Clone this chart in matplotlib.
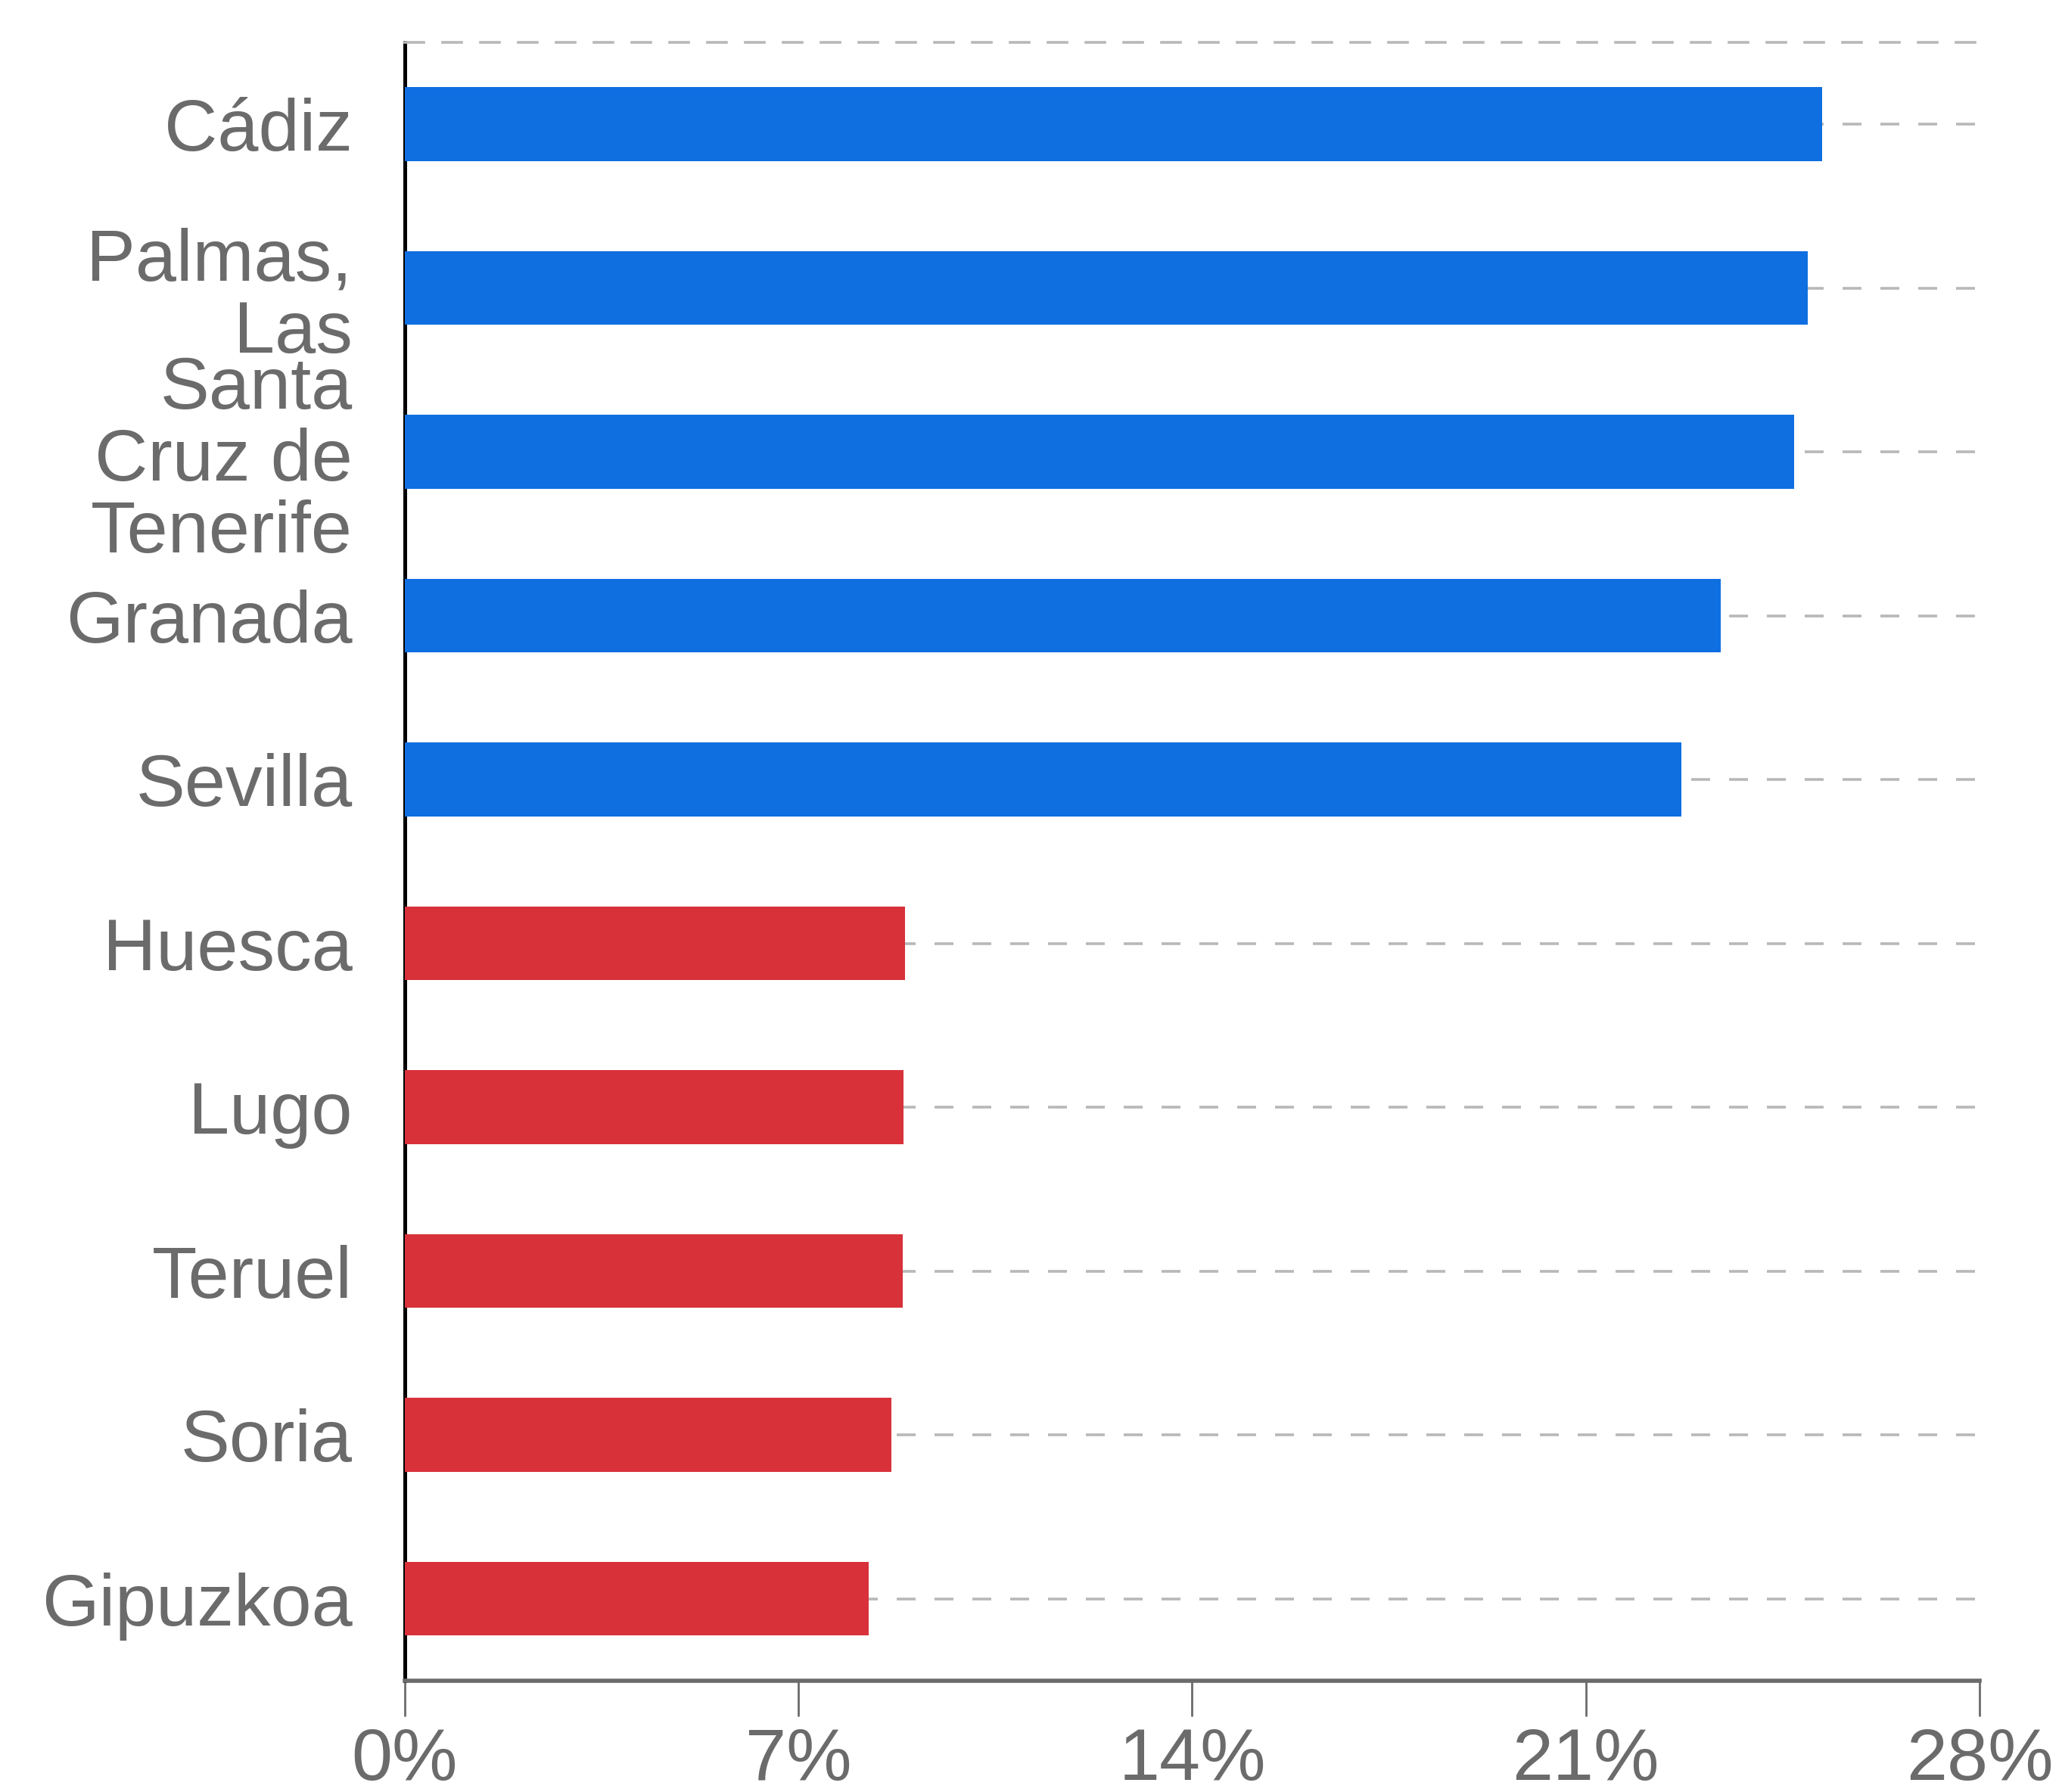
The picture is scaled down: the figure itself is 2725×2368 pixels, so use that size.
import matplotlib
matplotlib.use('Agg')
import matplotlib.pyplot as plt
from matplotlib.ticker import FuncFormatter

# provincias, de arriba a abajo
provincias = ['Cádiz', 'Palmas,\nLas', 'Santa\nCruz de\nTenerife', 'Granada', 'Sevilla',
              'Huesca', 'Lugo', 'Teruel', 'Soria', 'Gipuzkoa']
valores = [25.2, 24.95, 24.7, 23.4, 22.7, 8.9, 8.87, 8.85, 8.65, 8.25]
grupo = ['alto'] * 5 + ['bajo'] * 5
xticks = [0, 7, 14, 21, 28]

colores = {'alto': '#0F6FE1', 'bajo': '#D8313A'}
gris = '#6B6B6B'

plt.rcParams['font.family'] = ['Liberation Sans', 'DejaVu Sans']
plt.rcParams['lines.scale_dashes'] = False

fig = plt.figure(figsize=(27.25, 23.68), dpi=100)
ax = fig.add_axes([0.1963, 0.0621, 0.7637, 0.9143])

pos = list(range(len(provincias)))
ax.barh(pos, valores, height=0.45, color=[colores[g] for g in grupo], zorder=3)

ax.set_ylim(len(provincias) - 0.5, -0.5)
ax.set_xlim(0, 28)
ax.set_yticks(pos)
ax.set_yticklabels(provincias, fontsize=70, color=gris, linespacing=1.07)
ax.set_xticks(xticks)
ax.xaxis.set_major_formatter(FuncFormatter(lambda v, p: f'{v:.0f}%'))

ax.tick_params(axis='y', length=0, pad=50)
ax.tick_params(axis='x', length=34, width=2, color=gris, labelsize=70, labelcolor=gris, pad=10)

ax.grid(axis='y', color='#B8B8B8', linewidth=2.6, linestyle=(0, (18, 18)), zorder=0)
ax.grid(axis='x', visible=False)

ax.spines['left'].set_color('black')
ax.spines['left'].set_linewidth(3.6)
ax.spines['bottom'].set_color(gris)
ax.spines['bottom'].set_linewidth(4)
ax.spines['right'].set_visible(False)
ax.spines['top'].set_color('#B8B8B8')
ax.spines['top'].set_linewidth(2.6)
ax.spines['top'].set_linestyle((0, (18, 18)))

fig.savefig('out.png', dpi=100, facecolor='white')
